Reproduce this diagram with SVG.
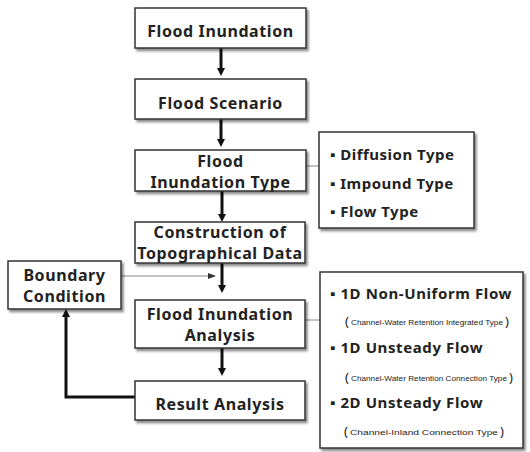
<svg xmlns="http://www.w3.org/2000/svg" width="530" height="452" viewBox="0 0 530 452">
<defs>
<filter id="sh" x="-10%" y="-10%" width="125%" height="130%">
<feDropShadow dx="2" dy="2.5" stdDeviation="1.2" flood-color="#000" flood-opacity="0.45"/>
</filter>
<marker id="ah" markerWidth="8" markerHeight="8" refX="4" refY="4" orient="auto" markerUnits="userSpaceOnUse" viewBox="0 0 8 8">
<path d="M0,0 L8,4 L0,8 Z" fill="#111"/>
</marker>
<marker id="ahs" markerWidth="8" markerHeight="8" refX="7" refY="4" orient="auto" markerUnits="userSpaceOnUse" viewBox="0 0 8 8">
<path d="M0,1 L8,4 L0,7 Z" fill="#333"/>
</marker>
</defs>
<style>
.box{fill:#fff;stroke:#333;stroke-width:1.5;filter:url(#sh)}
.t{font-family:"Noto Sans","Open Sans",sans-serif;font-weight:bold;font-size:16px;letter-spacing:0.6px;fill:#222;text-anchor:middle}
.s{font-family:"Noto Sans","Open Sans",sans-serif;font-weight:bold;font-size:15px;letter-spacing:0.5px;fill:#222}
.m{font-family:"Noto Sans","Open Sans",sans-serif;font-weight:bold;font-size:15px;letter-spacing:0.6px;fill:#222}
.sm{font-family:"Liberation Sans",sans-serif;font-size:7.6px;fill:#222}
.p{font-family:"Noto Sans",sans-serif;font-size:13px;fill:#222}
.thick{stroke:#111;stroke-width:3;fill:none}
.thin{stroke:#888;stroke-width:1;fill:none}
</style>
<g id="connectors">
<line class="thick" x1="221" y1="48" x2="221" y2="72" marker-end="url(#ah)"/>
<line class="thick" x1="221" y1="119" x2="221" y2="143" marker-end="url(#ah)"/>
<line class="thick" x1="222" y1="191" x2="222" y2="218" marker-end="url(#ah)"/>
<line class="thick" x1="222" y1="263" x2="222" y2="289" marker-end="url(#ah)"/>
<line class="thick" x1="222" y1="348" x2="222" y2="372" marker-end="url(#ah)"/>
<line class="thin" x1="121" y1="276" x2="215" y2="276" marker-end="url(#ahs)"/>
<polyline class="thick" points="135,397 66,397 66,313" marker-end="url(#ah)"/>
<line class="thin" x1="306" y1="166" x2="319" y2="166"/>
<line class="thin" x1="305" y1="320" x2="320" y2="320"/>
</g>
<g id="n1"><rect class="box" x="135" y="8" width="171" height="40"/><text class="t" x="220.5" y="37">Flood Inundation</text></g>
<g id="n2"><rect class="box" x="135" y="79" width="171" height="40"/><text class="t" x="220.5" y="109">Flood Scenario</text></g>
<g id="n3"><rect class="box" x="135" y="150" width="171" height="41"/><text class="t" x="220.5" y="167">Flood</text><text class="t" x="220.5" y="188">Inundation Type</text></g>
<g id="n3s"><rect class="box" x="319" y="132" width="155" height="96"/>
<text class="s" x="330" y="160">▪ Diffusion Type</text>
<text class="s" x="330" y="189">▪ Impound Type</text>
<text class="s" x="330" y="217">▪ Flow Type</text></g>
<g id="n4"><rect class="box" x="135" y="222" width="170" height="41"/><text class="t" x="220" y="238" letter-spacing="0.3">Construction of</text><text class="t" x="220" y="259" letter-spacing="0">Topographical Data</text></g>
<g id="nb"><rect class="box" x="8" y="261" width="113" height="48"/><text class="t" x="64.5" y="281">Boundary</text><text class="t" x="64.5" y="302">Condition</text></g>
<g id="n5"><rect class="box" x="135" y="300" width="170" height="48"/><text class="t" x="220" y="320">Flood Inundation</text><text class="t" x="220" y="341">Analysis</text></g>
<g id="n6"><rect class="box" x="135" y="381" width="170" height="39"/><text class="t" x="220" y="410">Result Analysis</text></g>
<g id="n5s"><rect class="box" x="320" y="272" width="203" height="176"/>
<text class="m" x="330" y="299">▪ 1D Non-Uniform Flow</text>
<text class="p" x="345" y="326">(</text>
<text class="sm" x="351" y="325" textLength="152" lengthAdjust="spacingAndGlyphs">Channel-Water Retention Integrated Type</text>
<text class="p" x="505" y="326">)</text>
<text class="m" x="330" y="353">▪ 1D Unsteady Flow</text>
<text class="p" x="345" y="382">(</text>
<text class="sm" x="351" y="381" textLength="156" lengthAdjust="spacingAndGlyphs">Channel-Water Retention Connection Type</text>
<text class="p" x="509" y="382">)</text>
<text class="m" x="330" y="408">▪ 2D Unsteady Flow</text>
<text class="p" x="344" y="436">(</text>
<text class="sm" x="350" y="435" textLength="148" lengthAdjust="spacingAndGlyphs">Channel-Inland Connection Type</text>
<text class="p" x="500" y="436">)</text>
</g>
</svg>
